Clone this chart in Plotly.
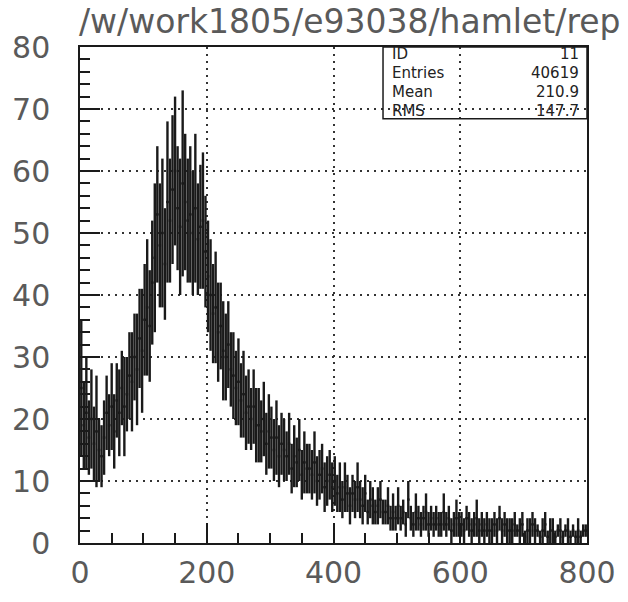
import plotly.graph_objects as go

# ---- data (bins of width 4, from 0 to 800) ----
bin_width = 4
bin_lo = 0
counts = [
    25, 19, 21, 17, 20, 16, 18, 15, 14, 17,
    21, 19, 22, 18, 23, 21, 25, 22, 24, 27,
    26, 30, 28, 33, 31, 36, 38, 35, 42, 46,
    53, 48, 50, 45, 55, 52, 57, 60, 54, 51,
    58, 55, 52, 53, 50, 54, 49, 51, 52, 47,
    43, 40, 37, 38, 34, 35, 31, 30, 32, 28,
    27, 25, 26, 23, 24, 21, 22, 20, 22, 19,
    19, 18, 20, 16, 18, 17, 15, 17, 14, 16,
    15, 14, 16, 12, 14, 13, 15, 11, 13, 12,
    12, 11, 13, 10, 11, 12, 9, 10, 11, 9,
    10, 8, 9, 7, 9, 8, 6, 8, 7, 9,
    7, 6, 8, 5, 7, 6, 5, 6, 7, 5,
    5, 6, 4, 5, 4, 6, 4, 5, 3, 7,
    4, 3, 5, 4, 3, 4, 5, 3, 4, 3,
    4, 3, 3, 5, 3, 4, 2, 3, 4, 3,
    3, 2, 4, 3, 2, 3, 4, 2, 3, 2,
    3, 2, 2, 3, 2, 4, 2, 3, 2, 2,
    2, 3, 2, 2, 3, 1, 2, 2, 3, 2,
    2, 1, 2, 3, 1, 2, 2, 1, 2, 2,
    1, 2, 2, 1, 2, 1, 2, 1, 2, 2,
]
errors = [
    11, 7, 9, 6, 8, 6, 9, 5, 5, 6,
    6, 5, 7, 6, 6, 7, 6, 8, 6, 7,
    8, 7, 9, 8, 10, 9, 11, 9, 10, 12,
    11, 10, 12, 9, 13, 10, 12, 12, 10, 11,
    15, 11, 10, 11, 10, 12, 9, 10, 11, 9,
    9, 9, 8, 9, 8, 7, 8, 7, 7, 6,
    7, 6, 7, 6, 7, 6, 6, 5, 6, 6,
    6, 5, 6, 5, 6, 5, 5, 6, 5, 5,
    5, 4, 5, 4, 5, 4, 5, 4, 5, 4,
    4, 4, 5, 4, 4, 4, 4, 4, 4, 4,
    4, 3, 4, 3, 4, 3, 3, 3, 3, 4,
    3, 3, 3, 2, 3, 3, 2, 3, 3, 2,
    2, 3, 2, 3, 2, 3, 2, 2, 2, 3,
    2, 2, 3, 2, 2, 2, 3, 2, 2, 2,
    2, 2, 2, 3, 2, 2, 2, 2, 3, 2,
    2, 2, 2, 2, 2, 2, 3, 2, 2, 2,
    2, 2, 2, 2, 2, 2, 2, 2, 2, 2,
    2, 2, 1, 2, 2, 1, 2, 2, 2, 2,
    1, 1, 2, 2, 1, 2, 2, 1, 1, 2,
    1, 1, 2, 1, 1, 1, 2, 1, 1, 1,
]
title_text = "/w/work1805/e93038/hamlet/rep"
stat_labels = ["ID", "Entries", "Mean", "RMS"]
stat_values = ["11", "40619", "210.9", "147.7"]
x_ticks = [0, 200, 400, 600, 800]
y_ticks = [0, 10, 20, 30, 40, 50, 60, 70, 80]

centers = [bin_lo + bin_width * (i + 0.5) for i in range(len(counts))]
half_w = [bin_width / 2] * len(counts)

INK = "#1a1a1a"
TXT = "#5a5a5a"

fig = go.Figure()
fig.add_trace(go.Scatter(
    x=centers, y=counts, mode="markers",
    marker=dict(size=2, color=INK),
    error_y=dict(type="data", array=errors, visible=True, color=INK, thickness=2.4, width=0),
    error_x=dict(type="data", array=half_w, visible=True, color=INK, thickness=2.4, width=0),
    showlegend=False, hoverinfo="skip",
))

fig.update_layout(
    width=628, height=602,
    margin=dict(l=80, r=31, t=47, b=44),
    paper_bgcolor="white", plot_bgcolor="white",
    font=dict(family="DejaVu Sans", color=TXT),
    xaxis=dict(
        range=[0, 800], tickvals=x_ticks, ticks="inside", ticklen=20, tickwidth=1.5,
        tickcolor=INK, showline=True, linecolor=INK, linewidth=1.5, mirror=True,
        showgrid=True, gridcolor="#333", gridwidth=1.5, griddash="2px,5px",
        minor=dict(dtick=50, ticks="inside", ticklen=10, tickcolor=INK, tickwidth=1.5, showgrid=False),
        tickfont=dict(size=30, color=TXT), zeroline=False, ticklabelstandoff=2,
    ),
    yaxis=dict(
        range=[0, 80], tickvals=y_ticks, ticks="inside", ticklen=20, tickwidth=1.5,
        tickcolor=INK, showline=True, linecolor=INK, linewidth=1.5, mirror=True,
        showgrid=True, gridcolor="#333", gridwidth=1.5, griddash="2px,5px",
        minor=dict(dtick=2, ticks="inside", ticklen=10, tickcolor=INK, tickwidth=1.5, showgrid=False),
        tickfont=dict(size=30, color=TXT), zeroline=False, ticklabelstandoff=22,
    ),
)

# title
fig.add_annotation(
    text=title_text, xref="paper", yref="paper", x=-0.006, y=1.0, yshift=4,
    xanchor="left", yanchor="bottom", showarrow=False,
    font=dict(size=33, color=TXT, family="DejaVu Sans"),
)

# statistics box (transparent, bordered)
fig.add_shape(type="rect", xref="paper", yref="paper",
              x0=(389 - 80) / 517, x1=1.0, y0=1 - (121 - 47) / 511, y1=1.0,
              line=dict(color=INK, width=1.5), fillcolor="rgba(0,0,0,0)")
for k, (lab, val) in enumerate(zip(stat_labels, stat_values)):
    ypix = 54 + k * 19.5
    yp = 1 - (ypix - 47) / 511
    fig.add_annotation(text=lab, xref="paper", yref="paper", x=(396 - 80) / 517, y=yp,
                       xanchor="left", yanchor="middle", showarrow=False,
                       font=dict(size=15, color="#222"))
    fig.add_annotation(text=val, xref="paper", yref="paper", x=(591 - 80) / 517, y=yp,
                       xanchor="right", yanchor="middle", showarrow=False,
                       font=dict(size=15, color="#222"))

fig.write_html("out.html")
